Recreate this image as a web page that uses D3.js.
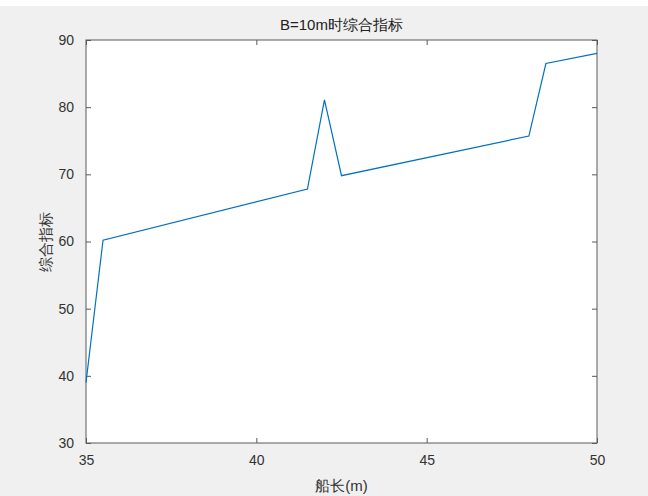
<!DOCTYPE html>
<html>
<head>
<meta charset="utf-8">
<script src="https://cdn.jsdelivr.net/npm/d3@7"></script>
<style>
  html, body { margin: 0; padding: 0; background: #fff; }
  svg { display: block; }
  text { font-family: "Liberation Sans", Arial, sans-serif; }
</style>
</head>
<body>
<script>
// values
const shipLength = [35, 35.5, 41.5, 42, 42.5, 48, 48.5, 50];
const score = [39.0, 60.2, 67.8, 81.1, 69.8, 75.7, 86.5, 88.0];
const xTicks = [35, 40, 45, 50];
const yTicks = [30, 40, 50, 60, 70, 80, 90];

const W = 648, H = 496;
const m = { left: 86, right: 597, top: 40, bottom: 443 };

const svg = d3.select("body").append("svg")
  .attr("width", W).attr("height", H);

svg.append("rect").attr("x", 0).attr("y", 6).attr("width", W).attr("height", H - 6)
  .attr("fill", "#f0f0f0");

const x = d3.scaleLinear().domain([35, 50]).range([m.left, m.right]);
const y = d3.scaleLinear().domain([30, 90]).range([m.bottom, m.top]);

svg.append("rect")
  .attr("x", m.left).attr("y", m.top)
  .attr("width", m.right - m.left).attr("height", m.bottom - m.top)
  .attr("fill", "#fff");

const axisColor = "#5a5a5a";
const styleAxis = g => {
  g.select(".domain").remove();
  g.selectAll(".tick line").attr("stroke", axisColor);
  g.selectAll(".tick text").attr("fill", "#333").style("font-size", "14px");
};

svg.append("g").attr("transform", `translate(0,${m.bottom})`)
  .call(d3.axisBottom(x).tickValues(xTicks).tickSize(-5).tickPadding(12))
  .call(styleAxis);
svg.append("g").attr("transform", `translate(0,${m.top})`)
  .call(d3.axisTop(x).tickValues(xTicks).tickSize(-5).tickFormat(""))
  .call(styleAxis);
svg.append("g").attr("transform", `translate(${m.left},0)`)
  .call(d3.axisLeft(y).tickValues(yTicks).tickSize(-5).tickPadding(12))
  .call(styleAxis);
svg.append("g").attr("transform", `translate(${m.right},0)`)
  .call(d3.axisRight(y).tickValues(yTicks).tickSize(-5).tickFormat(""))
  .call(styleAxis);

svg.append("rect")
  .attr("x", m.left).attr("y", m.top)
  .attr("width", m.right - m.left).attr("height", m.bottom - m.top)
  .attr("fill", "none").attr("stroke", axisColor).attr("stroke-width", 1);

const line = d3.line().x((d, i) => x(shipLength[i])).y(d => y(d));
svg.append("path").datum(score)
  .attr("d", line)
  .attr("fill", "none")
  .attr("stroke", "#0072bd")
  .attr("stroke-width", 1.2);

svg.append("text")
  .attr("x", (m.left + m.right) / 2).attr("y", 30)
  .attr("text-anchor", "middle")
  .attr("fill", "#222")
  .style("font-size", "15px")
  .text("B=10m时综合指标");

svg.append("text")
  .attr("x", (m.left + m.right) / 2).attr("y", 491)
  .attr("text-anchor", "middle")
  .attr("fill", "#333")
  .style("font-size", "15px")
  .text("船长(m)");

svg.append("text")
  .attr("transform", `translate(51,${(m.top + m.bottom) / 2}) rotate(-90)`)
  .attr("text-anchor", "middle")
  .attr("fill", "#333")
  .style("font-size", "15px")
  .text("综合指标");
</script>
</body>
</html>
